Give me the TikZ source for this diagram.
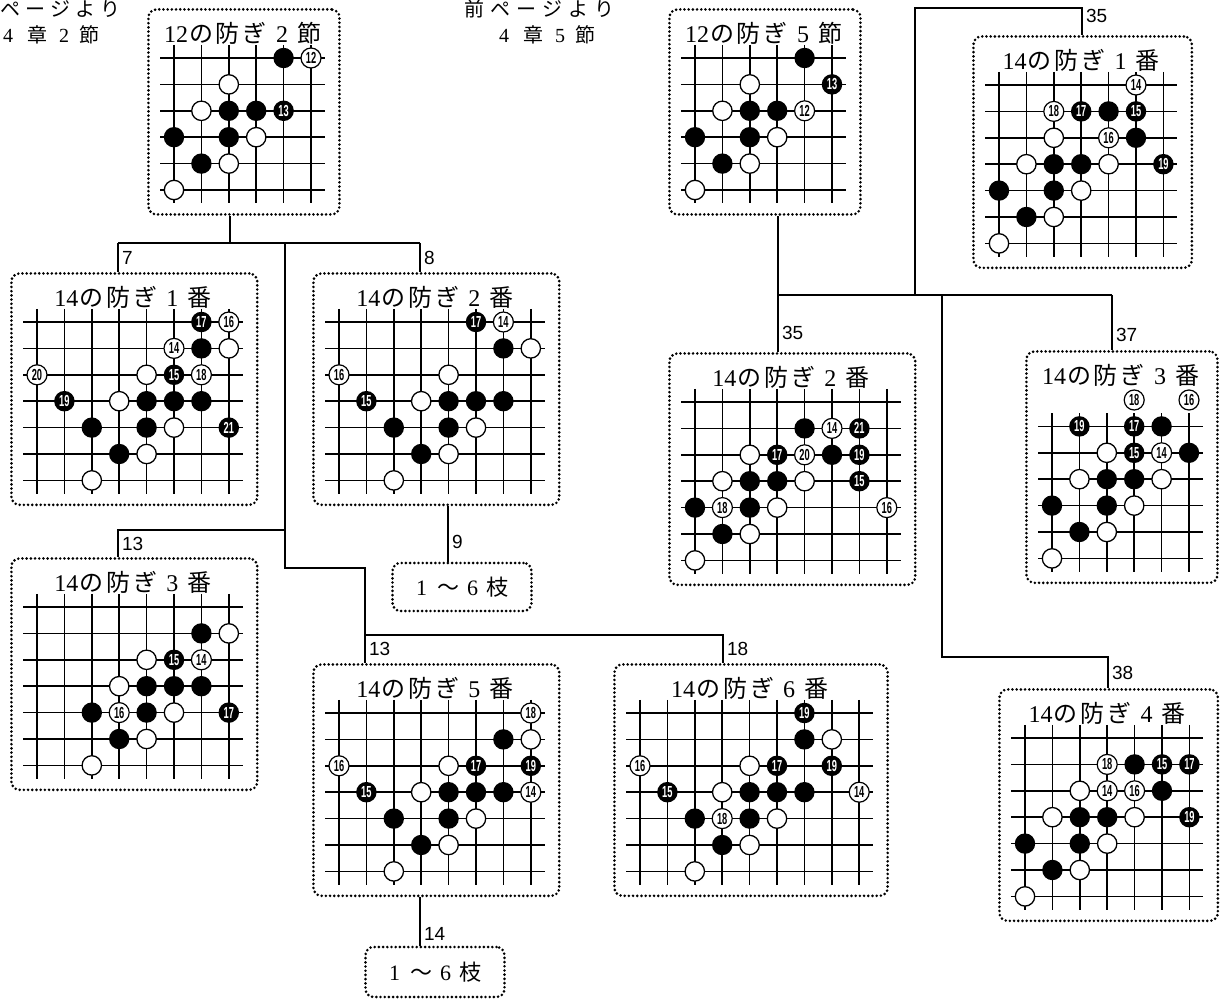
\documentclass[tikz,border=0pt]{standalone}
\usepackage{fontspec}
\setmainfont{Liberation Serif}
\setsansfont{Liberation Sans}
\newfontfamily\jp{Noto Sans CJK JP}
\usetikzlibrary{positioning, calc}

\tikzset{
  boardbox/.style={
    rectangle, rounded corners=8pt, draw=black, line width=2.9pt,
    dash pattern=on 0pt off 4.2pt, line cap=round, inner sep=0pt
  },
  gridline/.style={line width=1.5pt},
  wstone/.style={draw=black, fill=white, line width=1.3pt},
  numw/.style={
    circle, draw=black, fill=white, line width=1.2pt, minimum size=20pt,
    inner sep=0pt, font=\fontsize{16}{16}\selectfont\sffamily\bfseries
  },
  numb/.style={
    circle, fill=black, text=white, minimum size=20.5pt,
    inner sep=0pt, font=\fontsize{16}{16}\selectfont\sffamily\bfseries
  },
  boardtitle/.style={inner sep=0pt, font=\fontsize{24}{24}\selectfont},
  head/.style={inner sep=0pt, font=\fontsize{20}{20}\selectfont},
  link/.style={line width=2.2pt},
  lbl/.style={inner sep=3pt, font=\fontsize{19}{19}\selectfont\sffamily},
  leafbox/.style={
    boardbox, minimum width=139pt, minimum height=48pt,
    font=\fontsize{22}{22}\selectfont
  }
}

% stones at (column,row) of the current board
\newcommand\stB[2]{\fill ({27+(#1-1)*27.4},{50+(#2-1)*26.4}) circle[radius=10.2pt];}
\newcommand\stW[2]{\filldraw[wstone] ({27+(#1-1)*27.4},{50+(#2-1)*26.4}) circle[radius=9.7pt];}
\newcommand\nuB[3]{\node[numb] (\bname-#1-#2) at ({27+(#1-1)*27.4},{50+(#2-1)*26.4}) {\scalebox{0.58}[1]{#3}};}
\newcommand\nuW[3]{\node[numw] (\bname-#1-#2) at ({27+(#1-1)*27.4},{50+(#2-1)*26.4}) {\scalebox{0.58}[1]{#3}};}

% title: number, ordinal, kind
\newcommand\ttl[3]{#1\kern1pt{\jp の\kern3pt 防\kern3pt ぎ}\kern9pt #2\kern9pt{\jp #3}}

% board: name, left, top, columns, rows, first drawn row, title, stones
\newcommand\board[8]{%
  \begin{scope}[shift={(#2,#3)}]
    \def\bname{#1}
    \pgfmathsetmacro\bw{54+(#4-1)*27.4}
    \pgfmathsetmacro\bh{73+(#5-1)*26.4}
    \node[boardbox, minimum width=\bw pt, minimum height=\bh pt, anchor=north west] (#1) at (0,0) {};
    \node[boardtitle] (#1-t) at ({\bw/2},25) {#7};
    \foreach \c in {1,...,#4}
      \draw[gridline] ({27+(\c-1)*27.4},{50+(#6-1.5)*26.4}) -- ({27+(\c-1)*27.4},{50+(#5-0.5)*26.4});
    \foreach \r in {#6,...,#5}
      \draw[gridline] (13.3,{50+(\r-1)*26.4}) -- ({27+(#4-0.5)*27.4},{50+(\r-1)*26.4});
    #8
  \end{scope}}

\begin{document}
\begin{tikzpicture}[x=1pt, y=-1pt]
  \useasboundingbox (0,0) rectangle (1224,1000);

  % headers
  \node[head, anchor=west] (hL1) at (0,9) {\jp ペ\kern5pt ー\kern5pt ジ\kern5pt よ\kern5pt り};
  \node[head, anchor=west] (hL2) at (3,35) {4\kern14pt{\jp 章}\kern12pt 2\kern10pt{\jp 節}};
  \node[head] (hR1) at (539,9) {\jp 前\kern6pt ペ\kern6pt ー\kern6pt ジ\kern6pt よ\kern6pt り};
  \node[head] (hR2) at (547,35) {4\kern14pt{\jp 章}\kern12pt 5\kern10pt{\jp 節}};

  % left branch
  \board{A}{147}{8}{6}{6}{1}{\ttl{12}{2}{節}}{%
    \stB{5}{1} \nuW{6}{1}{12}
    \stW{3}{2}
    \stW{2}{3} \stB{3}{3} \stB{4}{3} \nuB{5}{3}{13}
    \stB{1}{4} \stB{3}{4} \stW{4}{4}
    \stB{2}{5} \stW{3}{5}
    \stW{1}{6}}

  \board{L1}{10}{272}{8}{7}{1}{\ttl{14}{1}{番}}{%
    \nuB{7}{1}{17} \nuW{8}{1}{16}
    \nuW{6}{2}{14} \stB{7}{2} \stW{8}{2}
    \nuW{1}{3}{20} \stW{5}{3} \nuB{6}{3}{15} \nuW{7}{3}{18}
    \nuB{2}{4}{19} \stW{4}{4} \stB{5}{4} \stB{6}{4} \stB{7}{4}
    \stB{3}{5} \stB{5}{5} \stW{6}{5} \nuB{8}{5}{21}
    \stB{4}{6} \stW{5}{6}
    \stW{3}{7}}

  \board{L2}{312}{272}{8}{7}{1}{\ttl{14}{2}{番}}{%
    \nuB{6}{1}{17} \nuW{7}{1}{14}
    \stB{7}{2} \stW{8}{2}
    \nuW{1}{3}{16} \stW{5}{3}
    \nuB{2}{4}{15} \stW{4}{4} \stB{5}{4} \stB{6}{4} \stB{7}{4}
    \stB{3}{5} \stB{5}{5} \stW{6}{5}
    \stB{4}{6} \stW{5}{6}
    \stW{3}{7}}

  \board{L3}{10}{557}{8}{7}{1}{\ttl{14}{3}{番}}{%
    \stB{7}{2} \stW{8}{2}
    \stW{5}{3} \nuB{6}{3}{15} \nuW{7}{3}{14}
    \stW{4}{4} \stB{5}{4} \stB{6}{4} \stB{7}{4}
    \stB{3}{5} \nuW{4}{5}{16} \stB{5}{5} \stW{6}{5} \nuB{8}{5}{17}
    \stB{4}{6} \stW{5}{6}
    \stW{3}{7}}

  \board{L5}{312}{663}{8}{7}{1}{\ttl{14}{5}{番}}{%
    \nuW{8}{1}{18}
    \stB{7}{2} \stW{8}{2}
    \nuW{1}{3}{16} \stW{5}{3} \nuB{6}{3}{17} \nuB{8}{3}{19}
    \nuB{2}{4}{15} \stW{4}{4} \stB{5}{4} \stB{6}{4} \stB{7}{4} \nuW{8}{4}{14}
    \stB{3}{5} \stB{5}{5} \stW{6}{5}
    \stB{4}{6} \stW{5}{6}
    \stW{3}{7}}

  \board{L6}{613}{663}{9}{7}{1}{\ttl{14}{6}{番}}{%
    \nuB{7}{1}{19}
    \stB{7}{2} \stW{8}{2}
    \nuW{1}{3}{16} \stW{5}{3} \nuB{6}{3}{17} \nuB{8}{3}{19}
    \nuB{2}{4}{15} \stW{4}{4} \stB{5}{4} \stB{6}{4} \stB{7}{4} \nuW{9}{4}{14}
    \stB{3}{5} \nuW{4}{5}{18} \stB{5}{5} \stW{6}{5}
    \stB{4}{6} \stW{5}{6}
    \stW{3}{7}}

  \node[leafbox] (E1) at (462,587) {1\kern10pt{\jp ～}\kern8pt 6\kern8pt{\jp 枝}};
  \node[leafbox, minimum height=50pt] (E2) at (435,972) {1\kern10pt{\jp ～}\kern8pt 6\kern8pt{\jp 枝}};

  % right branch
  \board{B}{668}{8}{6}{6}{1}{\ttl{12}{5}{節}}{%
    \stB{5}{1}
    \stW{3}{2} \nuB{6}{2}{13}
    \stW{2}{3} \stB{3}{3} \stB{4}{3} \nuW{5}{3}{12}
    \stB{1}{4} \stB{3}{4} \stW{4}{4}
    \stB{2}{5} \stW{3}{5}
    \stW{1}{6}}

  \board{R1}{972}{35}{7}{7}{1}{\ttl{14}{1}{番}}{%
    \nuW{6}{1}{14}
    \nuW{3}{2}{18} \nuB{4}{2}{17} \stB{5}{2} \nuB{6}{2}{15}
    \stW{3}{3} \nuW{5}{3}{16} \stB{6}{3}
    \stW{2}{4} \stB{3}{4} \stB{4}{4} \stW{5}{4} \nuB{7}{4}{19}
    \stB{1}{5} \stB{3}{5} \stW{4}{5}
    \stB{2}{6} \stW{3}{6}
    \stW{1}{7}}

  \board{R2}{668}{352}{8}{7}{1}{\ttl{14}{2}{番}}{%
    \stB{5}{2} \nuW{6}{2}{14} \nuB{7}{2}{21}
    \stW{3}{3} \nuB{4}{3}{17} \nuW{5}{3}{20} \stB{6}{3} \nuB{7}{3}{19}
    \stW{2}{4} \stB{3}{4} \stB{4}{4} \stW{5}{4} \nuB{7}{4}{15}
    \stB{1}{5} \nuW{2}{5}{18} \stB{3}{5} \stW{4}{5} \nuW{8}{5}{16}
    \stB{2}{6} \stW{3}{6}
    \stW{1}{7}}

  \board{R3}{1025}{350}{6}{7}{2}{\ttl{14}{3}{番}}{%
    \nuW{4}{1}{18} \nuW{6}{1}{16}
    \nuB{2}{2}{19} \nuB{4}{2}{17} \stB{5}{2}
    \stW{3}{3} \nuB{4}{3}{15} \nuW{5}{3}{14} \stB{6}{3}
    \stW{2}{4} \stB{3}{4} \stB{4}{4} \stW{5}{4}
    \stB{1}{5} \stB{3}{5} \stW{4}{5}
    \stB{2}{6} \stW{3}{6}
    \stW{1}{7}}

  \board{R4}{998}{688}{7}{7}{1}{\ttl{14}{4}{番}}{%
    \nuW{4}{2}{18} \stB{5}{2} \nuB{6}{2}{15} \nuB{7}{2}{17}
    \stW{3}{3} \nuW{4}{3}{14} \nuW{5}{3}{16} \stB{6}{3}
    \stW{2}{4} \stB{3}{4} \stB{4}{4} \stW{5}{4} \nuB{7}{4}{19}
    \stB{1}{5} \stB{3}{5} \stW{4}{5}
    \stB{2}{6} \stW{3}{6}
    \stW{1}{7}}

  % connectors, left tree
  \coordinate (jA) at (230,243);
  \coordinate (j7) at (118,243);
  \coordinate (j8) at (420,243);
  \coordinate (jM) at (285,243);
  \coordinate (j13) at (118,530);
  \coordinate (jS) at (365,568);
  \coordinate (j5) at (365,635);
  \coordinate (j6) at (723,635);
  \coordinate (j9) at (448,540);
  \coordinate (j14) at (420,920);
  \draw[link] (A.south -| jA) -- (jA);
  \draw[link] (j7) -- (j8);
  \draw[link] (j7) -- (j7 |- L1.north) node[lbl, midway, right] (t7) {7};
  \draw[link] (j8) -- (j8 |- L2.north) node[lbl, midway, right] (t8) {8};
  \draw[link] (L2.south -| j9) -- (E1.north -| j9) node[lbl, pos=0.65, right] (t9) {9};
  \draw[link] (jM) |- (j13) -- (j13 |- L3.north) node[lbl, midway, right] (t13a) {13};
  \draw[link] (jM |- j13) |- (jS) -- (j5) -- (j5 |- L5.north) node[lbl, midway, right] (t13b) {13};
  \draw[link] (j5) -- (j6) -- (j6 |- L6.north) node[lbl, midway, right] (t18) {18};
  \draw[link] (L5.south -| j14) -- (E2.north -| j14) node[lbl, pos=0.77, right] (t14) {14};

  % connectors, right tree
  \coordinate (jB) at (778,295);
  \coordinate (j37) at (1112,295);
  \coordinate (jU) at (915,295);
  \coordinate (jD) at (942,295);
  \coordinate (jT) at (1082,8);
  \coordinate (j38) at (1108,657);
  \draw[link] (B.south -| jB) -- (jB) -- (j37);
  \draw[link] (jB) -- (jB |- R2.north) node[lbl, pos=0.66, right] (t35b) {35};
  \draw[link] (j37) -- (j37 |- R3.north) node[lbl, pos=0.72, right] (t37) {37};
  \draw[link] (jU) |- (jT) -- (jT |- R1.north) node[lbl, pos=0.3, right] (t35a) {35};
  \draw[link] (jD) |- (j38) -- (j38 |- R4.north) node[lbl, midway, right] (t38) {38};
\end{tikzpicture}
\end{document}
